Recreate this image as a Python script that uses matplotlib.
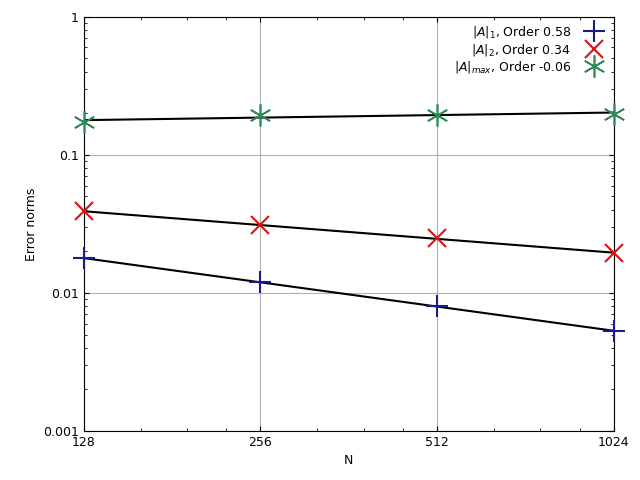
import numpy as np
import matplotlib.pyplot as plt
from matplotlib.ticker import FixedLocator, NullFormatter

N = [128, 256, 512, 1024]
err_l1 = [0.0178, 0.0120, 0.0080, 0.0053]
err_l2 = [0.0390, 0.0310, 0.0248, 0.0195]
err_max = [0.172, 0.196, 0.196, 0.198]
labels = [r"$|A|_1$, Order 0.58", r"$|A|_2$, Order 0.34", r"$|A|_{max}$, Order -0.06"]

fig = plt.figure(figsize=(6.4, 4.8), dpi=100)
ax = fig.add_axes([0.131, 0.102, 0.828, 0.863])

styles = [
    dict(marker="+", color="#1a1a8c", ms=16, mew=1.5),
    dict(marker="x", color="#e01010", ms=13, mew=1.5),
    dict(marker=(6, 2, 0), color="#2e8b57", ms=16, mew=1.2),
]
for err, lab, st in zip([err_l1, err_l2, err_max], labels, styles):
    ax.plot(N, err, linestyle="none", label=lab, clip_on=False, zorder=4, **st)
    # least squares fit in log-log
    p = np.polyfit(np.log(N), np.log(err), 1)
    ax.plot(N, np.exp(np.polyval(p, np.log(N))), color="black", lw=1.5, zorder=3)

ax.set_xscale("log", base=2)
ax.set_yscale("log")
ax.set_xlim(128, 1024)
ax.set_ylim(0.001, 1)
ax.xaxis.set_major_locator(FixedLocator(N))
ax.set_xticklabels([str(n) for n in N])
ax.xaxis.set_minor_locator(FixedLocator([160, 192, 224, 320, 384, 448, 640, 768, 896]))
ax.xaxis.set_minor_formatter(NullFormatter())
ax.set_yticks([0.001, 0.01, 0.1, 1])
ax.set_yticklabels(["0.001", "0.01", "0.1", "1"])
ax.tick_params(which="both", direction="in", top=True, right=True, labelsize=9)
ax.grid(True, which="major", color="#b0b0b0", lw=0.8)
ax.set_xlabel("N", fontsize=9)
ax.set_ylabel("Error norms", fontsize=9)

leg = ax.legend(loc="upper right", frameon=False, fontsize=9, markerfirst=False,
                handletextpad=0.8, labelspacing=0.1, borderaxespad=0.2)

fig.savefig("out.png", dpi=100)
